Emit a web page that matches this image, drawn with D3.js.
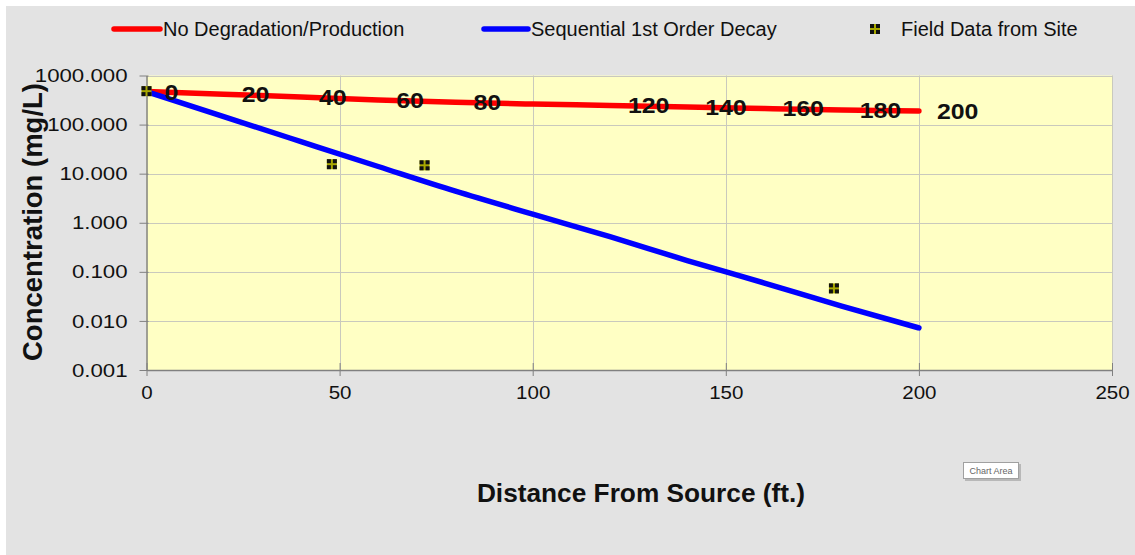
<!DOCTYPE html>
<html>
<head>
<meta charset="utf-8">
<script src="https://cdn.jsdelivr.net/npm/d3@7"></script>
<style>
html,body{margin:0;padding:0;background:#fff;}
text{font-family:"Liberation Sans",Arial,sans-serif;}
</style>
</head>
<body>
<svg id="chart" width="1135" height="555"></svg>
<script>
// ---- data ----
const distances = [0, 20, 40, 60, 80, 100, 120, 140, 160, 180, 200];
const noDegradation = [470, 415, 365, 318, 285, 262, 245, 228, 212, 198, 190];
const sequentialDecay = [470, 145, 45, 14, 4.4, 1.5, 0.52, 0.17, 0.059, 0.020, 0.0072];
const pointLabels = ["0", "20", "40", "60", "80", "", "120", "140", "160", "180", "200"];
const fieldDistance = [0, 48, 72, 178];
const fieldConc = [480, 15.6, 14.8, 0.046];
const xTicks = [0, 50, 100, 150, 200, 250];
const yTicks = [0.001, 0.01, 0.1, 1, 10, 100, 1000];
const yTickLabels = ["0.001", "0.010", "0.100", "1.000", "10.000", "100.000", "1000.000"];
const seriesNames = ["No Degradation/Production", "Sequential 1st Order Decay", "Field Data from Site"];

// stretch text horizontally (the reference is horizontally widened)
function stretch(sel, f) {
  sel.each(function () {
    const w = this.getComputedTextLength();
    if (w > 0) d3.select(this).attr("textLength", w * f).attr("lengthAdjust", "spacingAndGlyphs");
  });
}

// ---- layout ----
const svg = d3.select("#chart");
const L = 146.5, R = 1112, T = 75.5, B = 370;
const x = d3.scaleLinear().domain([0, 250]).range([L, R]);
const y = d3.scaleLog().domain([0.001, 1000]).range([B, T]);

svg.append("rect").attr("x", 6).attr("y", 6).attr("width", 1129).attr("height", 549).attr("fill", "#e3e3e3");
svg.append("rect").attr("x", L).attr("y", T).attr("width", R - L).attr("height", B - T).attr("fill", "#ffffc4");

// grid
const grid = svg.append("g").attr("stroke", "#c9c9bd").attr("stroke-width", 1);
grid.selectAll("line.h").data(yTicks.slice(1)).join("line")
  .attr("x1", L).attr("x2", R).attr("y1", d => Math.round(y(d)) + 0.5).attr("y2", d => Math.round(y(d)) + 0.5);
grid.selectAll("line.v").data(xTicks.slice(1)).join("line")
  .attr("y1", T).attr("y2", B).attr("x1", d => Math.round(x(d)) + 0.5).attr("x2", d => Math.round(x(d)) + 0.5);

// axes
const yAxis = d3.axisLeft(y).tickValues(yTicks).tickFormat((d, i) => yTickLabels[i]).tickSizeInner(7).tickSizeOuter(0).tickPadding(12);
const gy = svg.append("g").attr("transform", `translate(${L},0)`).call(yAxis);
gy.select(".domain").attr("stroke", "#808080").attr("stroke-width", 1.5);
gy.selectAll(".tick line").attr("stroke", "#808080").attr("x2", -7).attr("x1", 2);
gy.selectAll(".tick text").attr("font-size", 19).attr("fill", "#111").attr("font-family", "Liberation Sans, Arial, sans-serif");
stretch(gy.selectAll(".tick text"), 1.17);

const xAxis = d3.axisBottom(x).tickValues(xTicks).tickSizeInner(6).tickSizeOuter(0).tickPadding(10);
const gx = svg.append("g").attr("transform", `translate(0,${B})`).call(xAxis);
gx.select(".domain").attr("stroke", "#808080").attr("stroke-width", 1.5);
gx.selectAll(".tick line").attr("stroke", "#808080").attr("y1", -7).attr("y2", 6);
gx.selectAll(".tick text").attr("font-size", 19).attr("fill", "#111").attr("font-family", "Liberation Sans, Arial, sans-serif");
stretch(gx.selectAll(".tick text"), 1.08);

// lines
const line = d3.line().x((d, i) => x(distances[i])).y(d => y(d)).curve(d3.curveMonotoneX);
svg.append("path").datum(noDegradation).attr("d", line).attr("fill", "none")
  .attr("stroke", "#ff0000").attr("stroke-width", 5.5).attr("stroke-linecap", "round").attr("stroke-linejoin", "round");
svg.append("path").datum(sequentialDecay).attr("d", line).attr("fill", "none")
  .attr("stroke", "#0000ff").attr("stroke-width", 5.5).attr("stroke-linecap", "round").attr("stroke-linejoin", "round");

// field markers
function marker(g, cx, cy) {
  g.append("rect").attr("x", cx - 5).attr("y", cy - 5).attr("width", 10).attr("height", 10).attr("fill", "#a8a800");
  [[-5, -5], [1, -5], [-5, 1], [1, 1]].forEach(([dx, dy]) => {
    g.append("rect").attr("x", cx + dx).attr("y", cy + dy).attr("width", 4).attr("height", 4).attr("fill", "#111");
  });
}
const mg = svg.append("g");
fieldDistance.forEach((d, i) => marker(mg, x(d), y(fieldConc[i])));

// data labels
const labels = svg.append("g").selectAll("text").data(noDegradation).join("text")
  .attr("x", (d, i) => x(distances[i]) + 18)
  .attr("y", d => y(d))
  .attr("dy", "0.36em")
  .attr("font-size", 22).attr("font-weight", "bold").attr("fill", "#111")
  .text((d, i) => pointLabels[i]);
stretch(labels, 1.13);

// legend
const lg = svg.append("g").attr("font-size", 20).attr("fill", "#111");
lg.append("line").attr("x1", 114).attr("x2", 160).attr("y1", 29).attr("y2", 29).attr("stroke", "#ff0000").attr("stroke-width", 5.5).attr("stroke-linecap", "round");
lg.append("text").attr("x", 163).attr("y", 29).attr("dy", "0.35em").text(seriesNames[0]);
lg.append("line").attr("x1", 484).attr("x2", 528).attr("y1", 29).attr("y2", 29).attr("stroke", "#0000ff").attr("stroke-width", 5.5).attr("stroke-linecap", "round");
lg.append("text").attr("x", 531).attr("y", 29).attr("dy", "0.35em").text(seriesNames[1]);
marker(lg, 875, 29);
lg.append("text").attr("x", 901).attr("y", 29).attr("dy", "0.35em").text(seriesNames[2]);

// axis titles
const xt = svg.append("text").attr("x", 641).attr("y", 493).attr("dy", "0.35em").attr("text-anchor", "middle")
  .attr("font-size", 25).attr("font-weight", "bold").attr("fill", "#111").text("Distance From Source (ft.)");
stretch(xt, 1.05);
svg.append("text").attr("transform", "translate(32,222) rotate(-90)").attr("dy", "0.35em").attr("text-anchor", "middle")
  .attr("font-size", 27.5).attr("font-weight", "bold").attr("fill", "#111").text("Concentration (mg/L)");

// chart area tooltip
const tip = svg.append("g");
tip.append("rect").attr("x", 965).attr("y", 464).attr("width", 56).attr("height", 17).attr("fill", "#b8b8b8");
tip.append("rect").attr("x", 963.5).attr("y", 462.5).attr("width", 55).attr("height", 16).attr("fill", "#fff").attr("stroke", "#a0a0a0");
tip.append("text").attr("x", 991).attr("y", 471).attr("dy", "0.35em").attr("text-anchor", "middle")
  .attr("font-size", 9).attr("fill", "#666").text("Chart Area");
</script>
</body>
</html>
